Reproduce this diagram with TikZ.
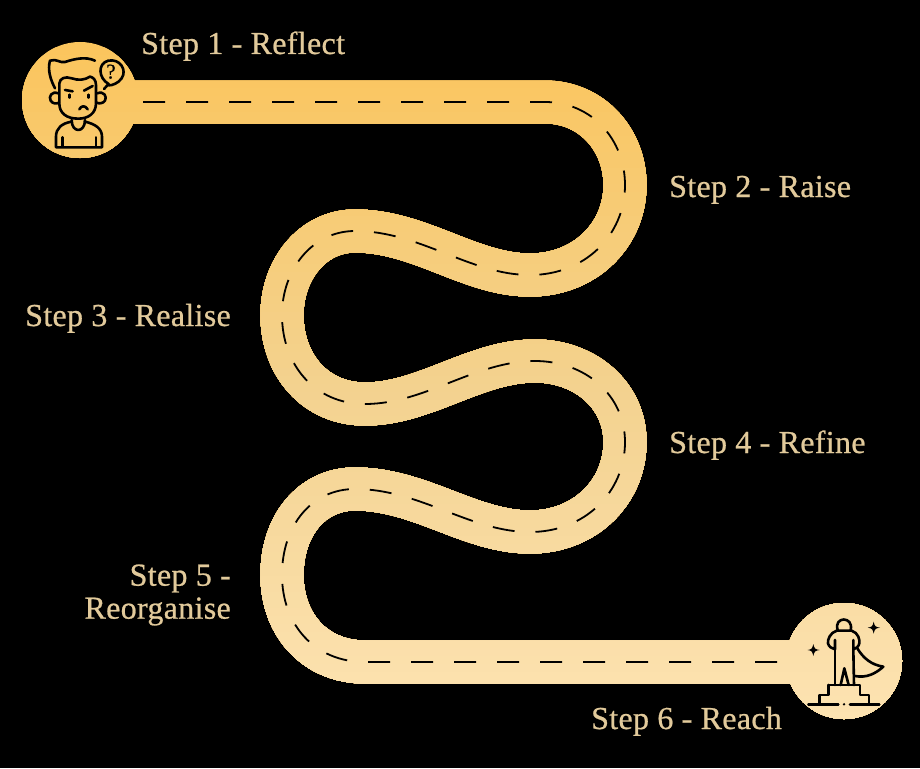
\documentclass[tikz,border=0pt]{standalone}
\usepackage{fontspec}
\setmainfont{Liberation Serif}[FakeBold=0.7,LetterSpace=1]
\definecolor{roadtop}{HTML}{FBC55D}
\definecolor{roadmid}{HTML}{F3D28F}
\definecolor{roadbot}{HTML}{FDE3B2}
\definecolor{labelcol}{HTML}{E2CA9B}
\tikzset{
  steplabel/.style={text=labelcol,font=\fontsize{32}{33}\selectfont,inner sep=0pt},
  iconline/.style={draw=black,line width=2.6pt,line cap=round,line join=round},
  lanedash/.style={draw=black,line width=1.8pt,dash pattern=on 22pt off 21pt},
}
\newcommand{\roadcurve}{(80,102) -- (545,102)
  .. controls (592,102) and (625,140) .. (625,185)
  .. controls (625,235) and (585,275) .. (530,275)
  .. controls (470,275) and (420,231) .. (355,231)
  .. controls (312,231) and (282,270) .. (282,315)
  .. controls (282,365) and (315,404) .. (365,404)
  .. controls (425,404) and (475,361) .. (535,361)
  .. controls (585,361) and (625,395) .. (625,442)
  .. controls (625,492) and (585,532) .. (530,532)
  .. controls (470,532) and (420,489) .. (355,489)
  .. controls (312,489) and (282,525) .. (282,575)
  .. controls (282,625) and (315,662) .. (365,662) -- (845,662)}
\newcommand{\lanecurve}{(143,102) -- (545,102)
  .. controls (592,102) and (625,140) .. (625,185)
  .. controls (625,235) and (585,275) .. (530,275)
  .. controls (470,275) and (420,231) .. (355,231)
  .. controls (312,231) and (282,270) .. (282,315)
  .. controls (282,365) and (315,404) .. (365,404)
  .. controls (425,404) and (475,361) .. (535,361)
  .. controls (585,361) and (625,395) .. (625,442)
  .. controls (625,492) and (585,532) .. (530,532)
  .. controls (470,532) and (420,489) .. (355,489)
  .. controls (312,489) and (282,525) .. (282,575)
  .. controls (282,625) and (315,662) .. (365,662) -- (782,662)}
\begin{document}
\begin{tikzpicture}[x=1pt,y=-1pt]
\useasboundingbox (0,0) rectangle (920,768);
\fill[black] (0,0) rectangle (920,768);
% road and end discs, painted in bands from top to bottom for the vertical gradient
\foreach \i in {0,...,85}{
  \pgfmathsetmacro{\ytop}{\i*8+40}
  \ifnum\i<43
    \pgfmathsetmacro{\mix}{100-\i*100/43}
    \colorlet{bandcol}{roadtop!\mix!roadmid}
  \else
    \pgfmathsetmacro{\mix}{100-(\i-43)*100/42}
    \colorlet{bandcol}{roadmid!\mix!roadbot}
  \fi
  \begin{scope}
    \clip (0,\ytop) rectangle (920,768);
    \draw[bandcol,line width=43pt] \roadcurve;
    \fill[bandcol] (80,100) circle[radius=58];
    \fill[bandcol] (844,661) circle[radius=58];
  \end{scope}
}
\draw[lanedash] \lanecurve;
% thinker icon
\begin{scope}[shift={(10,20)},x=0.3333pt,y=-0.3333pt]
  \draw[iconline] (135,205) .. controls (122,180) and (112,150) .. (120,122) .. controls (140,115) and (150,130) .. (165,126) .. controls (190,118) and (225,108) .. (255,122);
  \draw[iconline] (148,215) -- (148,190) .. controls (150,175) and (165,168) .. (185,175) .. controls (205,182) and (225,180) .. (240,170) .. controls (250,172) and (258,180) .. (258,195) -- (258,250) .. controls (258,280) and (235,296) .. (205,296) .. controls (170,296) and (148,280) .. (148,250) -- cycle;
  \draw[iconline] (145,220) .. controls (125,212) and (115,230) .. (122,242) .. controls (128,252) and (140,252) .. (147,248);
  \draw[iconline] (262,220) .. controls (282,212) and (292,230) .. (285,242) .. controls (280,250) and (268,252) .. (260,248);
  \draw[iconline] (165,210) -- (188,214);
  \draw[iconline] (222,212) -- (248,198);
  \draw[iconline] (178,224) -- (178,233);
  \draw[iconline] (236,224) -- (236,233);
  \draw[iconline] (208,268) .. controls (214,256) and (226,256) .. (233,268);
  \draw[iconline] (185,300) .. controls (185,340) and (225,340) .. (225,300);
  \draw[iconline] (185,305) .. controls (155,310) and (138,325) .. (138,350) -- (138,382) -- (276,382) -- (276,350) .. controls (276,325) and (255,312) .. (225,305);
  \draw[iconline] (157,352) -- (157,380);
  \draw[iconline] (258,352) -- (258,380);
  \draw[iconline] (282,207) -- (296,192) .. controls (265,175) and (262,130) .. (295,122) .. controls (330,115) and (352,150) .. (335,175) .. controls (325,190) and (305,197) .. (296,196);
  \node[inner sep=0pt,font=\fontsize{21}{21}\selectfont,text=black] (qmark) at (303,155) {?};
\end{scope}
% hero icon
\begin{scope}[shift={(770,590)},x=0.3333pt,y=-0.3333pt]
  \draw[iconline] (203,120) .. controls (190,78) and (252,78) .. (242,120);
  \draw[iconline] (200,122) -- (245,122) .. controls (265,128) and (270,150) .. (268,160) .. controls (266,170) and (258,176) .. (250,178) -- (250,150);
  \draw[iconline] (200,122) .. controls (180,128) and (172,150) .. (174,160) .. controls (176,170) and (186,176) .. (195,178) -- (195,150);
  \draw[iconline] (195,178) -- (195,285);
  \draw[iconline] (250,178) -- (252,285);
  \draw[iconline] (212,285) -- (223,235) -- (236,285);
  \draw[iconline] (262,175) .. controls (280,205) and (305,225) .. (340,230) .. controls (318,250) and (290,265) .. (255,258);
  \draw[iconline] (175,285) -- (270,285) -- (270,315) -- (297,315) -- (297,343);
  \draw[iconline] (175,285) -- (175,315) -- (148,315) -- (148,343);
  \draw[iconline] (115,343) -- (205,343);
  \draw[iconline] (240,343) -- (328,343);
  \fill (222,343) circle[radius=4];
  \fill (130,162) .. controls (133,176) and (135,178) .. (149,180) .. controls (135,182) and (133,184) .. (130,198) .. controls (127,184) and (125,182) .. (113,180) .. controls (125,178) and (127,176) .. (130,162) -- cycle;
  \fill (311,95) .. controls (314,109) and (316,111) .. (330,113) .. controls (316,115) and (314,117) .. (311,131) .. controls (308,117) and (306,115) .. (293,113) .. controls (306,111) and (308,109) .. (311,95) -- cycle;
\end{scope}
% labels
\node[steplabel,anchor=base west] (s1) at (141,54) {Step 1 - Reflect};
\node[steplabel,anchor=base west] (s2) at (669,197) {Step 2 - Raise};
\node[steplabel,anchor=base east] (s3) at (231,326) {Step 3 - Realise};
\node[steplabel,anchor=base west] (s4) at (669,453) {Step 4 - Refine};
\node[steplabel,anchor=east,align=right] (s5) at (231,595) {Step 5 -\\Reorganise};
\node[steplabel,anchor=base west] (s6) at (591,729) {Step 6 - Reach};
\end{tikzpicture}
\end{document}
